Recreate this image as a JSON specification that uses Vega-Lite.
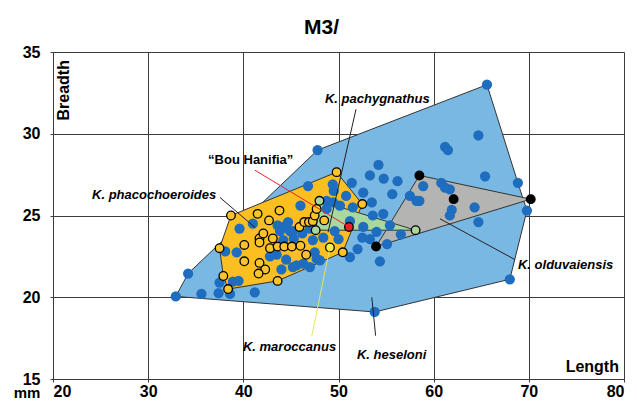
{
  "$schema": "https://vega.github.io/schema/vega-lite/v6.json",
  "width": 571,
  "height": 327,
  "autosize": {"type": "none"},
  "padding": {"left": 53, "top": 52, "right": 13, "bottom": 22},
  "background": "white",
  "title": {"text": "M3/", "font": "Liberation Sans", "fontSize": 21, "fontWeight": "bold", "color": "#000", "anchor": "middle", "dx": -17, "offset": 6},
  "config": {
    "view": {"stroke": null},
    "axis": {
      "grid": true, "gridColor": "#3c3c3c", "gridWidth": 1, "gridOpacity": 1,
      "domainColor": "#3c3c3c", "tickColor": "#3c3c3c", "tickSize": 3,
      "labelFont": "Liberation Sans", "labelFontSize": 16, "labelFontWeight": "bold", "labelColor": "#000",
      "title": null
    }
  },
  "datasets": {
    "hulls": [
      {"taxon": "heseloni", "k": 1, "x": 32.9, "y": 20.05},
      {"taxon": "heseloni", "k": 2, "x": 34.2, "y": 21.45},
      {"taxon": "heseloni", "k": 3, "x": 47.8, "y": 29.0},
      {"taxon": "heseloni", "k": 4, "x": 65.6, "y": 33.0},
      {"taxon": "heseloni", "k": 5, "x": 68.85, "y": 27.0},
      {"taxon": "heseloni", "k": 6, "x": 69.8, "y": 25.3},
      {"taxon": "heseloni", "k": 7, "x": 68.0, "y": 21.1},
      {"taxon": "heseloni", "k": 8, "x": 53.8, "y": 19.1},
      {"taxon": "heseloni", "k": 9, "x": 32.9, "y": 20.05},
      {"taxon": "phacochoeroides", "k": 1, "x": 38.7, "y": 25.0},
      {"taxon": "phacochoeroides", "k": 2, "x": 49.8, "y": 27.65},
      {"taxon": "phacochoeroides", "k": 3, "x": 52.5, "y": 25.7},
      {"taxon": "phacochoeroides", "k": 4, "x": 50.45, "y": 22.75},
      {"taxon": "phacochoeroides", "k": 5, "x": 43.6, "y": 21.0},
      {"taxon": "phacochoeroides", "k": 6, "x": 38.4, "y": 20.5},
      {"taxon": "phacochoeroides", "k": 7, "x": 37.9, "y": 21.3},
      {"taxon": "phacochoeroides", "k": 8, "x": 37.5, "y": 23.0},
      {"taxon": "phacochoeroides", "k": 9, "x": 38.7, "y": 25.0},
      {"taxon": "olduvaiensis", "k": 1, "x": 58.5, "y": 27.45},
      {"taxon": "olduvaiensis", "k": 2, "x": 70.2, "y": 26.0},
      {"taxon": "olduvaiensis", "k": 3, "x": 53.95, "y": 23.1},
      {"taxon": "olduvaiensis", "k": 4, "x": 58.5, "y": 27.45},
      {"taxon": "pachygnathus", "k": 1, "x": 48.0, "y": 25.9},
      {"taxon": "pachygnathus", "k": 2, "x": 58.1, "y": 24.1},
      {"taxon": "pachygnathus", "k": 3, "x": 47.6, "y": 24.1},
      {"taxon": "pachygnathus", "k": 4, "x": 48.0, "y": 25.9}
    ],
    "points": [
      {"taxon": "heseloni", "x": 32.9, "y": 20.05},
      {"taxon": "heseloni", "x": 34.2, "y": 21.45},
      {"taxon": "heseloni", "x": 35.6, "y": 20.2},
      {"taxon": "heseloni", "x": 37.4, "y": 20.25},
      {"taxon": "heseloni", "x": 37.5, "y": 20.9},
      {"taxon": "heseloni", "x": 38.6, "y": 20.2},
      {"taxon": "heseloni", "x": 38.9, "y": 20.95},
      {"taxon": "heseloni", "x": 39.5, "y": 21.0},
      {"taxon": "heseloni", "x": 41.2, "y": 20.3},
      {"taxon": "heseloni", "x": 38.1, "y": 22.8},
      {"taxon": "heseloni", "x": 39.3, "y": 22.75},
      {"taxon": "heseloni", "x": 39.6, "y": 24.2},
      {"taxon": "heseloni", "x": 41.0, "y": 24.5},
      {"taxon": "heseloni", "x": 47.8, "y": 29.0},
      {"taxon": "heseloni", "x": 46.8, "y": 26.8},
      {"taxon": "heseloni", "x": 49.4, "y": 26.9},
      {"taxon": "heseloni", "x": 51.4, "y": 27.0},
      {"taxon": "heseloni", "x": 49.5, "y": 26.5},
      {"taxon": "heseloni", "x": 52.6, "y": 26.4},
      {"taxon": "heseloni", "x": 50.8, "y": 26.2},
      {"taxon": "heseloni", "x": 53.3, "y": 27.45},
      {"taxon": "heseloni", "x": 54.2, "y": 28.1},
      {"taxon": "heseloni", "x": 54.75, "y": 27.25},
      {"taxon": "heseloni", "x": 56.2, "y": 27.1},
      {"taxon": "heseloni", "x": 55.65, "y": 26.3},
      {"taxon": "heseloni", "x": 53.5, "y": 25.8},
      {"taxon": "heseloni", "x": 57.5, "y": 26.2},
      {"taxon": "heseloni", "x": 58.2, "y": 25.9},
      {"taxon": "heseloni", "x": 58.9, "y": 26.8},
      {"taxon": "heseloni", "x": 60.8, "y": 27.0},
      {"taxon": "heseloni", "x": 61.2, "y": 26.7},
      {"taxon": "heseloni", "x": 61.7, "y": 26.6},
      {"taxon": "heseloni", "x": 61.2, "y": 29.2},
      {"taxon": "heseloni", "x": 61.5, "y": 29.0},
      {"taxon": "heseloni", "x": 64.7, "y": 29.9},
      {"taxon": "heseloni", "x": 65.6, "y": 33.0},
      {"taxon": "heseloni", "x": 65.4, "y": 27.4},
      {"taxon": "heseloni", "x": 68.85, "y": 27.0},
      {"taxon": "heseloni", "x": 69.8, "y": 25.3},
      {"taxon": "heseloni", "x": 68.0, "y": 21.1},
      {"taxon": "heseloni", "x": 64.3, "y": 25.5},
      {"taxon": "heseloni", "x": 64.7, "y": 24.6},
      {"taxon": "heseloni", "x": 61.9, "y": 25.35},
      {"taxon": "heseloni", "x": 61.7, "y": 25.0},
      {"taxon": "heseloni", "x": 58.5, "y": 25.9},
      {"taxon": "heseloni", "x": 53.8, "y": 19.1},
      {"taxon": "heseloni", "x": 54.35, "y": 22.2},
      {"taxon": "heseloni", "x": 55.1, "y": 23.25},
      {"taxon": "heseloni", "x": 56.55, "y": 23.85},
      {"taxon": "heseloni", "x": 55.4, "y": 24.4},
      {"taxon": "heseloni", "x": 54.0, "y": 24.0},
      {"taxon": "heseloni", "x": 52.5, "y": 23.65},
      {"taxon": "heseloni", "x": 53.3, "y": 23.55},
      {"taxon": "heseloni", "x": 53.6, "y": 25.0},
      {"taxon": "heseloni", "x": 54.7, "y": 25.1},
      {"taxon": "heseloni", "x": 52.6, "y": 24.3},
      {"taxon": "heseloni", "x": 52.0, "y": 22.95},
      {"taxon": "heseloni", "x": 51.2, "y": 22.45},
      {"taxon": "heseloni", "x": 51.5, "y": 25.5},
      {"taxon": "heseloni", "x": 51.2, "y": 24.65},
      {"taxon": "heseloni", "x": 43.6, "y": 24.4},
      {"taxon": "heseloni", "x": 44.5, "y": 24.4},
      {"taxon": "heseloni", "x": 45.2, "y": 24.05},
      {"taxon": "heseloni", "x": 47.0, "y": 24.2},
      {"taxon": "heseloni", "x": 43.85, "y": 24.05},
      {"taxon": "heseloni", "x": 44.9, "y": 24.05},
      {"taxon": "heseloni", "x": 44.7, "y": 24.6},
      {"taxon": "heseloni", "x": 43.5, "y": 22.6},
      {"taxon": "heseloni", "x": 44.5, "y": 22.3},
      {"taxon": "heseloni", "x": 42.8, "y": 22.5},
      {"taxon": "heseloni", "x": 44.0, "y": 21.7},
      {"taxon": "heseloni", "x": 45.2, "y": 21.85},
      {"taxon": "heseloni", "x": 46.3, "y": 22.05},
      {"taxon": "heseloni", "x": 47.7, "y": 22.35},
      {"taxon": "heseloni", "x": 47.5, "y": 22.75},
      {"taxon": "heseloni", "x": 48.05, "y": 22.25},
      {"taxon": "heseloni", "x": 47.0, "y": 21.85},
      {"taxon": "heseloni", "x": 45.6, "y": 21.95},
      {"taxon": "heseloni", "x": 48.75, "y": 25.9},
      {"taxon": "heseloni", "x": 49.45, "y": 25.8},
      {"taxon": "heseloni", "x": 48.75, "y": 25.4},
      {"taxon": "heseloni", "x": 50.15, "y": 25.6},
      {"taxon": "heseloni", "x": 49.6, "y": 24.05},
      {"taxon": "heseloni", "x": 48.4, "y": 23.65},
      {"taxon": "heseloni", "x": 50.0, "y": 23.55},
      {"taxon": "heseloni", "x": 46.0, "y": 25.6},
      {"taxon": "heseloni", "x": 45.3, "y": 23.6},
      {"taxon": "heseloni", "x": 44.2, "y": 23.5},
      {"taxon": "heseloni", "x": 47.3, "y": 23.5},
      {"taxon": "heseloni", "x": 46.2, "y": 23.9},
      {"taxon": "phacochoeroides", "x": 38.7, "y": 25.0},
      {"taxon": "phacochoeroides", "x": 41.5, "y": 25.1},
      {"taxon": "phacochoeroides", "x": 43.8, "y": 25.3},
      {"taxon": "phacochoeroides", "x": 42.7, "y": 24.7},
      {"taxon": "phacochoeroides", "x": 37.5, "y": 23.0},
      {"taxon": "phacochoeroides", "x": 40.1, "y": 23.2},
      {"taxon": "phacochoeroides", "x": 41.7, "y": 23.6},
      {"taxon": "phacochoeroides", "x": 41.7, "y": 23.35},
      {"taxon": "phacochoeroides", "x": 42.1, "y": 23.9},
      {"taxon": "phacochoeroides", "x": 40.1, "y": 22.2},
      {"taxon": "phacochoeroides", "x": 41.7, "y": 22.1},
      {"taxon": "phacochoeroides", "x": 42.3, "y": 21.7},
      {"taxon": "phacochoeroides", "x": 41.6, "y": 21.45},
      {"taxon": "phacochoeroides", "x": 37.9, "y": 21.3},
      {"taxon": "phacochoeroides", "x": 38.4, "y": 20.5},
      {"taxon": "phacochoeroides", "x": 43.6, "y": 21.0},
      {"taxon": "phacochoeroides", "x": 43.1, "y": 23.6},
      {"taxon": "phacochoeroides", "x": 42.8, "y": 23.0},
      {"taxon": "phacochoeroides", "x": 43.6, "y": 23.1},
      {"taxon": "phacochoeroides", "x": 44.3, "y": 23.1},
      {"taxon": "phacochoeroides", "x": 45.1, "y": 23.1},
      {"taxon": "phacochoeroides", "x": 46.0, "y": 23.15},
      {"taxon": "phacochoeroides", "x": 46.6, "y": 22.6},
      {"taxon": "phacochoeroides", "x": 45.9, "y": 24.3},
      {"taxon": "phacochoeroides", "x": 46.4, "y": 24.6},
      {"taxon": "phacochoeroides", "x": 46.9, "y": 24.6},
      {"taxon": "phacochoeroides", "x": 47.3, "y": 24.65},
      {"taxon": "phacochoeroides", "x": 47.5, "y": 25.0},
      {"taxon": "phacochoeroides", "x": 47.7, "y": 25.4},
      {"taxon": "phacochoeroides", "x": 48.5, "y": 24.7},
      {"taxon": "phacochoeroides", "x": 49.8, "y": 27.65},
      {"taxon": "phacochoeroides", "x": 52.5, "y": 25.7},
      {"taxon": "phacochoeroides", "x": 50.45, "y": 22.75},
      {"taxon": "pachygnathus", "x": 48.0, "y": 25.9},
      {"taxon": "pachygnathus", "x": 47.6, "y": 24.1},
      {"taxon": "pachygnathus", "x": 58.1, "y": 24.1},
      {"taxon": "maroccanus", "x": 49.1, "y": 23.05},
      {"taxon": "olduvaiensis", "x": 58.5, "y": 27.45},
      {"taxon": "olduvaiensis", "x": 62.1, "y": 26.0},
      {"taxon": "olduvaiensis", "x": 70.2, "y": 26.0},
      {"taxon": "olduvaiensis", "x": 53.95, "y": 23.1},
      {"taxon": "Bou Hanifia", "x": 51.1, "y": 24.3}
    ],
    "leaders": [
      {"taxon": "phacochoeroides", "k": 1, "x": 37.55, "y": 26.1},
      {"taxon": "phacochoeroides", "k": 2, "x": 41.22, "y": 24.27},
      {"taxon": "Bou Hanifia", "k": 1, "x": 41.22, "y": 27.77},
      {"taxon": "Bou Hanifia", "k": 2, "x": 51.1, "y": 24.3},
      {"taxon": "pachygnathus", "k": 1, "x": 51.84, "y": 31.5},
      {"taxon": "pachygnathus", "k": 2, "x": 48.9, "y": 23.97},
      {"taxon": "maroccanus", "k": 1, "x": 49.1, "y": 23.05},
      {"taxon": "maroccanus", "k": 2, "x": 47.2, "y": 17.65},
      {"taxon": "heseloni", "k": 1, "x": 53.5, "y": 20.0},
      {"taxon": "heseloni", "k": 2, "x": 53.9, "y": 17.65},
      {"taxon": "olduvaiensis", "k": 1, "x": 68.55, "y": 22.3},
      {"taxon": "olduvaiensis", "k": 2, "x": 60.66, "y": 24.8}
    ],
    "labels": [
      {"text": "K. phacochoeroides", "x": 24.1, "y": 26.25, "italic": true},
      {"text": "K. pachygnathus", "x": 48.58, "y": 32.1, "italic": true},
      {"text": "K. olduvaiensis", "x": 68.86, "y": 22.0, "italic": true},
      {"text": "K. heseloni", "x": 51.94, "y": 16.45, "italic": true},
      {"text": "K. maroccanus", "x": 39.96, "y": 16.94, "italic": true},
      {"text": "“Bou Hanifia”", "x": 36.3, "y": 28.4, "italic": false}
    ],
    "frameText": [
      {"text": "Length", "x": 79.47, "y": 15.73},
      {"text": "mm", "x": 17.27, "y": 13.67}
    ]
  },
  "encoding": {
    "x": {"field": "x", "type": "quantitative", "scale": {"domain": [20, 80], "nice": false, "zero": false},
          "axis": {"values": [20, 30, 40, 50, 60, 70, 80], "labelPadding": 1}},
    "y": {"field": "y", "type": "quantitative", "scale": {"domain": [15, 35], "nice": false, "zero": false},
          "axis": {"values": [15, 20, 25, 30, 35], "labelPadding": 10}}
  },
  "layer": [
    {
      "data": {"name": "hulls"},
      "transform": [{"filter": "datum.taxon === 'heseloni'"}],
      "mark": {"type": "line", "fill": "#7ab8e4", "stroke": "#333", "strokeWidth": 1, "interpolate": "linear"},
      "encoding": {"order": {"field": "k", "type": "quantitative"}}
    },
    {
      "data": {"name": "hulls"},
      "transform": [{"filter": "datum.taxon === 'phacochoeroides'"}],
      "mark": {"type": "line", "fill": "#fbbf22", "stroke": "#333", "strokeWidth": 1},
      "encoding": {"order": {"field": "k", "type": "quantitative"}}
    },
    {
      "data": {"name": "hulls"},
      "transform": [{"filter": "datum.taxon === 'olduvaiensis'"}],
      "mark": {"type": "line", "fill": "#b4b4b2", "stroke": "#333", "strokeWidth": 1},
      "encoding": {"order": {"field": "k", "type": "quantitative"}}
    },
    {
      "data": {"name": "hulls"},
      "transform": [{"filter": "datum.taxon === 'pachygnathus'"}],
      "mark": {"type": "line", "fill": "#a8d8a0", "stroke": "#333", "strokeWidth": 1},
      "encoding": {"order": {"field": "k", "type": "quantitative"}}
    },
    {
      "data": {"name": "points"},
      "transform": [{"filter": "datum.taxon === 'heseloni'"}],
      "mark": {"type": "circle", "size": 105, "color": "#1e6dbe", "opacity": 1}
    },
    {
      "data": {"name": "points"},
      "transform": [{"filter": "datum.taxon !== 'heseloni'"}],
      "mark": {"type": "point", "shape": "circle", "filled": true, "stroke": "#000", "strokeWidth": 1.3, "opacity": 1},
      "encoding": {
        "fill": {"field": "taxon", "type": "nominal", "legend": null,
                 "scale": {"domain": ["phacochoeroides", "pachygnathus", "maroccanus", "olduvaiensis", "Bou Hanifia"],
                           "range": ["#fcc42c", "#a9d69c", "#f0ee58", "#000000", "#e8212a"]}},
        "size": {"field": "taxon", "type": "nominal", "legend": null,
                 "scale": {"domain": ["phacochoeroides", "pachygnathus", "maroccanus", "olduvaiensis", "Bou Hanifia"],
                           "range": [74, 74, 74, 90, 74]}}
      }
    },
    {
      "data": {"name": "leaders"},
      "mark": {"type": "line", "strokeWidth": 1},
      "encoding": {
        "detail": {"field": "taxon"},
        "order": {"field": "k", "type": "quantitative"},
        "stroke": {"field": "taxon", "type": "nominal", "legend": null,
                   "scale": {"domain": ["phacochoeroides", "Bou Hanifia", "pachygnathus", "maroccanus", "heseloni", "olduvaiensis"],
                             "range": ["#222222", "#e8212a", "#222222", "#e6e65a", "#222222", "#222222"]}}
      }
    },
    {
      "data": {"name": "labels"},
      "transform": [{"filter": "datum.italic"}],
      "mark": {"type": "text", "align": "left", "baseline": "middle", "font": "Liberation Sans", "fontSize": 13, "fontWeight": "bold", "fontStyle": "italic", "color": "#000"},
      "encoding": {"text": {"field": "text"}}
    },
    {
      "data": {"name": "labels"},
      "transform": [{"filter": "!datum.italic"}],
      "mark": {"type": "text", "align": "left", "baseline": "middle", "font": "Liberation Sans", "fontSize": 13, "fontWeight": "bold", "color": "#000"},
      "encoding": {"text": {"field": "text"}}
    },
    {
      "data": {"values": [{"text": "Breadth", "x": 21.16, "y": 32.66}]},
      "mark": {"type": "text", "angle": 270, "align": "center", "baseline": "middle", "font": "Liberation Sans", "fontSize": 16, "fontWeight": "bold", "color": "#000"},
      "encoding": {"text": {"field": "text"}}
    },
    {
      "data": {"name": "frameText"},
      "transform": [{"filter": "datum.text === 'Length'"}],
      "mark": {"type": "text", "align": "right", "baseline": "middle", "font": "Liberation Sans", "fontSize": 16, "fontWeight": "bold", "color": "#000"},
      "encoding": {"text": {"field": "text"}}
    },
    {
      "data": {"name": "frameText"},
      "transform": [{"filter": "datum.text === 'mm'"}],
      "mark": {"type": "text", "align": "center", "baseline": "bottom", "font": "Liberation Sans", "fontSize": 15, "fontWeight": "bold", "color": "#000"},
      "encoding": {"text": {"field": "text"}}
    }
  ]
}
